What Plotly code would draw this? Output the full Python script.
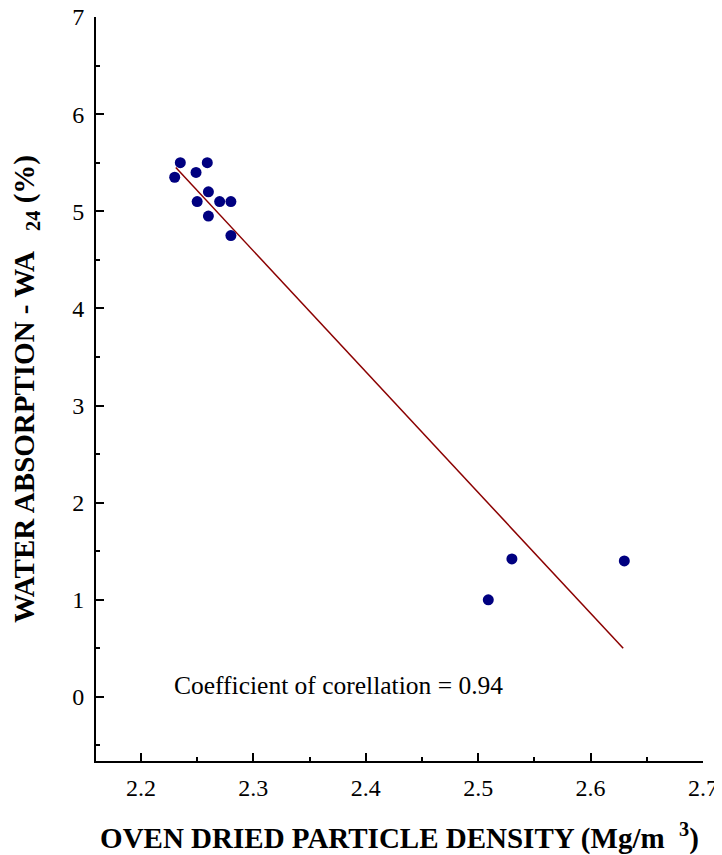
import plotly.graph_objects as go

# Data
density = [2.23, 2.235, 2.259, 2.249, 2.26, 2.25, 2.27, 2.28, 2.26, 2.28, 2.509, 2.53, 2.63]
absorption = [5.35, 5.50, 5.50, 5.40, 5.20, 5.10, 5.10, 5.10, 4.95, 4.75, 1.00, 1.42, 1.40]

fit_x = [2.231, 2.629]
fit_y = [5.45, 0.50]

x_ticks = [2.2, 2.3, 2.4, 2.5, 2.6, 2.7]
y_ticks = [0, 1, 2, 3, 4, 5, 6, 7]

note = "Coefficient of corellation = 0.94"
note_x, note_y = 2.228, 0.12

FONT = "Liberation Serif"

fig = go.Figure()
fig.add_trace(go.Scatter(x=fit_x, y=fit_y, mode="lines",
                         line=dict(color="#8B0000", width=1.5),
                         showlegend=False, hoverinfo="skip"))
fig.add_trace(go.Scatter(x=density, y=absorption, mode="markers",
                         marker=dict(color="#000080", size=11),
                         showlegend=False))

fig.add_annotation(x=note_x, y=note_y, text=note, showarrow=False,
                   xanchor="left", yanchor="middle",
                   font=dict(family=FONT, size=25.5, color="black"))

axis_common = dict(showline=True, linecolor="black", linewidth=2,
                   ticks="inside", ticklen=8, tickwidth=1.5, tickcolor="black",
                   showgrid=False, zeroline=False, automargin=False,
                   ticklabeloverflow="allow",
                   tickfont=dict(family=FONT, size=24, color="black"))

fig.update_xaxes(range=[2.16, 2.7], tickvals=x_ticks,
                 ticktext=[f"{v:.1f}" for v in x_ticks],
                 minor=dict(ticks="inside", ticklen=4, tickwidth=1.5,
                            tickcolor="black", dtick=0.05, tick0=2.15),
                 ticklabelstandoff=4,
                 title=dict(text="<b>OVEN DRIED PARTICLE DENSITY (Mg/m  <sup>3</sup>)</b>",
                            font=dict(family=FONT, size=29, color="black"),
                            standoff=29),
                 **axis_common)
fig.update_yaxes(range=[-0.66, 7], tickvals=y_ticks,
                 minor=dict(ticks="inside", ticklen=4, tickwidth=1.5,
                            tickcolor="black", dtick=0.5, tick0=0),
                 ticklabelstandoff=5,
                 title=dict(text="<b>WATER ABSORPTION - WA   <sub>24</sub> (%)</b>",
                            font=dict(family=FONT, size=29, color="black"),
                            standoff=34),
                 **axis_common)

fig.update_layout(width=714, height=847,
                  margin=dict(l=88, r=19, t=9, b=94),
                  plot_bgcolor="white", paper_bgcolor="white")

fig.write_html("out.html")
